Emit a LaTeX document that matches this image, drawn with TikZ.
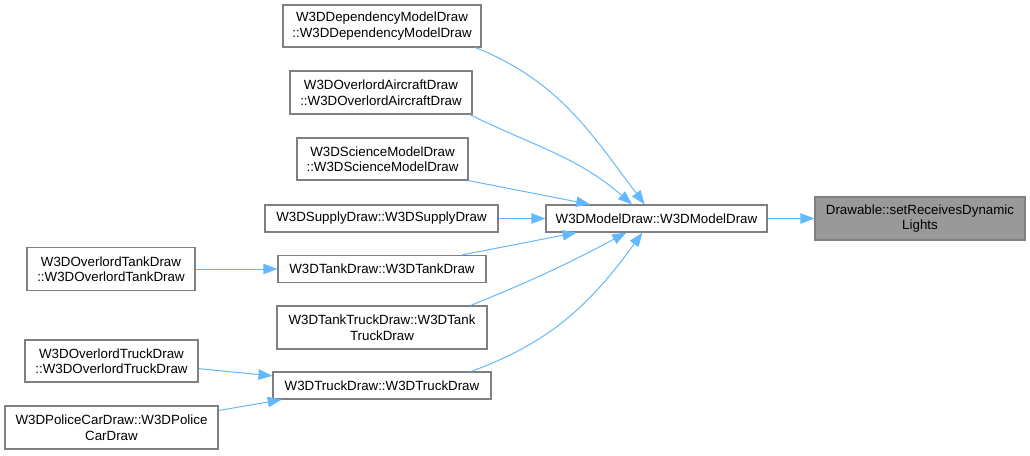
\documentclass[tikz,border=0pt]{standalone}
\usepackage{fontspec}
\setmainfont{Liberation Sans}
\usetikzlibrary{arrows.meta, calc}

\definecolor{edgeblue}{HTML}{63B8FF}
\definecolor{boxgray}{HTML}{808080}
\definecolor{targetgray}{HTML}{999999}

\begin{document}
\begin{tikzpicture}[
    x=0.75pt, y=-0.75pt,
    >={Triangle[length=10.5pt, width=7.8pt]},
    func/.style={draw=boxgray, line width=0.9pt, fill=white, align=center,
        inner sep=0pt, text=black, font=\fontsize{10}{11.6}\selectfont},
    boxsize/.style 2 args={minimum width=#1*0.75pt, minimum height=#2*0.75pt},
    call/.style={->, draw=edgeblue, line width=0.75pt}
]

% Page frame (pixel units, y downwards)
\useasboundingbox (0,0) rectangle (1030,455);

% Called function
\node[func, boxsize={210}{43}, fill=targetgray] (receives_lights) at (920,218.5)
    {Drawable::setReceivesDynamic\\Lights};

% Direct caller
\node[func, boxsize={221}{27}] (model_draw) at (656.5,218.5) {W3DModelDraw::W3DModelDraw};

% Callers of the model draw constructor
\node[func, boxsize={198}{42}] (dependency_draw) at (382,26)
    {W3DDependencyModelDraw\\::W3DDependencyModelDraw};
\node[func, boxsize={182}{43}] (aircraft_draw) at (381,92.5)
    {W3DOverlordAircraftDraw\\::W3DOverlordAircraftDraw};
\node[func, boxsize={171}{42}] (science_draw) at (382.5,159)
    {W3DScienceModelDraw\\::W3DScienceModelDraw};
\node[func, boxsize={233}{27}] (supply_draw) at (381.5,218.5) {W3DSupplyDraw::W3DSupplyDraw};
\node[func, boxsize={208}{27}] (tank_draw) at (382,269) {W3DTankDraw::W3DTankDraw};
\node[func, boxsize={210}{43}] (tank_truck_draw) at (382,327.5)
    {W3DTankTruckDraw::W3DTank\\TruckDraw};
\node[func, boxsize={218}{27}] (truck_draw) at (382,385.5) {W3DTruckDraw::W3DTruckDraw};

% Second level callers
\node[func, boxsize={168}{43}] (overlord_tank_draw) at (111,269)
    {W3DOverlordTankDraw\\::W3DOverlordTankDraw};
\node[func, boxsize={173}{42}] (overlord_truck_draw) at (111.5,361)
    {W3DOverlordTruckDraw\\::W3DOverlordTruckDraw};
\node[func, boxsize={213}{43}] (police_car_draw) at (111.5,427.5)
    {W3DPoliceCarDraw::W3DPolice\\CarDraw};

% Call edges
\draw[call] (model_draw.east) -- (receives_lights.west);
\draw[call] (dependency_draw.-13) to[out=-22, in=127] (model_draw.130);
\draw[call] (aircraft_draw.-14) to[out=-26, in=139] (model_draw.150);
\draw[call] (science_draw.south east) -- (model_draw.168);
\draw[call] (supply_draw.east) -- (model_draw.west);
\draw[call] (tank_draw.10) -- (model_draw.190);
\draw[call] (tank_truck_draw.14) to[out=22, in=208] (model_draw.205);
\draw[call] (truck_draw.9) to[out=20, in=234] (model_draw.225);

\draw[call] (overlord_tank_draw.east) -- (tank_draw.west);
\draw[call] (overlord_truck_draw.-5) -- (truck_draw.175);
\draw[call] (police_car_draw.9) -- (truck_draw.188);

\end{tikzpicture}
\end{document}
